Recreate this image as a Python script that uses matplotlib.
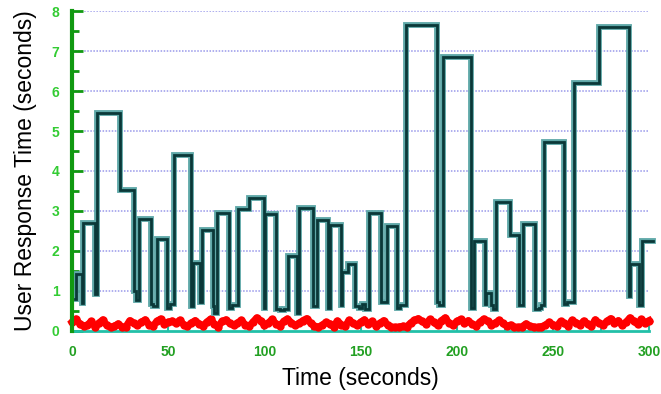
import matplotlib

matplotlib.use("Agg")
import matplotlib.pyplot as plt
import numpy as np
from matplotlib.ticker import MultipleLocator

plt.rcParams["font.family"] = ["Liberation Sans", "DejaVu Sans"]

# czasy zmian i wartosci czasu odpowiedzi (wykres schodkowy)
czas_krok = [1.5, 1.8, 5.0, 5.8, 12.0, 13.0, 24.8, 32.0, 33.4, 35.0,
             41.0, 42.0, 44.0, 49.4, 51.0, 53.0, 62.0, 63.0, 66.4, 67.8,
             73.3, 74.0, 75.2, 81.6, 83.0, 86.2, 92.2, 99.6, 100.5, 106.2,
             108.0, 110.0, 112.2, 116.8, 118.0, 125.4, 127.2, 133.2, 134.2, 139.7,
             140.6, 143.5, 147.3, 149.0, 150.5, 152.5, 154.2, 160.7, 163.5, 169.0,
             170.5, 173.8, 189.6, 191.0, 193.0, 207.2, 209.2, 214.6, 215.4, 217.9,
             219.0, 220.6, 227.8, 232.3, 234.4, 240.6, 242.5, 244.0, 245.6, 255.7,
             257.5, 261.0, 273.8, 289.4, 290.3, 294.6, 296.2, 301.8]
odp_krok = [0.80, 1.42, 0.70, 2.70, 0.92, 5.46, 3.53, 1.00, 0.78, 2.80,
            0.67, 0.62, 2.31, 0.58, 0.67, 4.40, 0.62, 1.71, 0.72, 2.52,
            0.62, 0.46, 2.94, 0.58, 0.65, 3.06, 3.33, 0.58, 2.92, 0.54,
            0.52, 0.56, 1.88, 0.46, 3.07, 0.62, 2.77, 0.58, 2.64, 0.65,
            1.47, 1.68, 0.62, 0.58, 0.68, 0.55, 2.94, 0.72, 2.62, 0.57,
            0.65, 7.64, 0.72, 0.65, 6.85, 0.58, 2.25, 0.67, 0.94, 0.65,
            0.54, 3.22, 2.39, 0.65, 2.67, 0.54, 0.58, 0.65, 4.73, 0.67,
            0.72, 6.21, 7.60, 0.87, 1.67, 0.65, 2.25, 2.25]

# szum przy dnie wykresu (co 2 s)
czas_szum = np.arange(0, 301, 2)
odp_szum = [0.22, 0.30, 0.18, 0.12, 0.15, 0.24, 0.10, 0.20, 0.28, 0.14, 0.09, 0.12, 0.18, 0.10, 0.11,
            0.26, 0.20, 0.14, 0.22, 0.28, 0.16, 0.12, 0.24, 0.30, 0.18, 0.22, 0.25, 0.20, 0.27, 0.16,
            0.12, 0.20, 0.26, 0.18, 0.13, 0.22, 0.30, 0.17, 0.11, 0.24, 0.28, 0.19, 0.14, 0.20, 0.27,
            0.16, 0.12, 0.22, 0.33, 0.26, 0.15, 0.20, 0.29, 0.18, 0.13, 0.24, 0.30, 0.21, 0.14, 0.19,
            0.26, 0.31, 0.20, 0.12, 0.10, 0.14, 0.22, 0.18, 0.11, 0.25, 0.16, 0.12, 0.27, 0.20, 0.14,
            0.22, 0.28, 0.17, 0.24, 0.13, 0.19, 0.26, 0.15, 0.10, 0.09, 0.10, 0.12, 0.11, 0.20, 0.27,
            0.31, 0.24, 0.18, 0.29, 0.22, 0.14, 0.26, 0.33, 0.20, 0.15, 0.24, 0.29, 0.19, 0.26, 0.17,
            0.13, 0.22, 0.30, 0.25, 0.16, 0.20, 0.27, 0.19, 0.12, 0.15, 0.10, 0.09, 0.11, 0.18, 0.12,
            0.10, 0.09, 0.11, 0.14, 0.22, 0.16, 0.12, 0.24, 0.19, 0.13, 0.27, 0.21, 0.15, 0.25, 0.18,
            0.12, 0.28, 0.20, 0.15, 0.24, 0.31, 0.19, 0.26, 0.14, 0.22, 0.33, 0.25, 0.17, 0.29, 0.21,
            0.26]

fig = plt.figure(figsize=(6.61, 3.94), dpi=100)
ax = fig.add_axes([0.109, 0.160, 0.873, 0.812])

for y in range(1, 9):
    ax.axhline(y, color="#9898ea", linestyle=(0, (1, 1)), linewidth=1.1, zorder=1)

ax.plot(czas_szum, odp_szum, color="#ff0000", linewidth=5, marker="o",
        markersize=5, zorder=3, clip_on=False)
ax.plot(czas_krok, odp_krok, drawstyle="steps-post", color="#5fa8a8",
        linewidth=4.2, zorder=4, clip_on=False, solid_joinstyle="miter")
ax.plot(czas_krok, odp_krok, drawstyle="steps-post", color="#0a3838",
        linewidth=2, zorder=5, clip_on=False, solid_joinstyle="miter")

ax.set_xlim(0, 300)
ax.set_ylim(0, 8)
ax.xaxis.set_major_locator(MultipleLocator(50))
ax.xaxis.set_minor_locator(MultipleLocator(25))
ax.yaxis.set_major_locator(MultipleLocator(1))
ax.yaxis.set_minor_locator(MultipleLocator(0.5))

for s in ["top", "right"]:
    ax.spines[s].set_visible(False)
ax.spines["left"].set_color("#119911")
ax.spines["left"].set_linewidth(3)
ax.spines["left"].set_zorder(6)
ax.spines["bottom"].set_color("#22c0a8")
ax.spines["bottom"].set_linewidth(2)

ax.tick_params(axis="y", which="major", direction="in", length=8, width=2,
               color="#119911", labelcolor="#33cc33", pad=9)
ax.tick_params(axis="y", which="minor", direction="in", length=5, width=2,
               color="#119911")
ax.tick_params(axis="x", which="major", direction="in", length=6, width=1.5,
               color="#22c0a8", labelcolor="#22a022", pad=10)
ax.tick_params(axis="x", which="minor", direction="in", length=3, width=1.5,
               color="#22c0a8")
for lab in ax.get_xticklabels() + ax.get_yticklabels():
    lab.set_fontweight("bold")
    lab.set_fontsize(10)

ax.set_xlabel("Time (seconds)", fontsize=16.5, labelpad=6)
ax.set_ylabel("User Response Time (seconds)", fontsize=16.5, labelpad=11)

fig.savefig("out.png", dpi=100)
plt.close(fig)
